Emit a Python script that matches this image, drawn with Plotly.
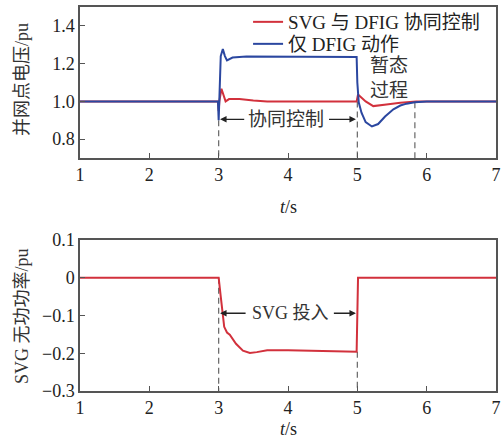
import plotly.graph_objects as go

# ---------------- data ----------------
# Upper panel: grid-point voltage (pu)
t_coop = [1.0, 2.99, 3.0, 3.01, 3.04, 3.07, 3.1, 3.15, 3.3, 3.5, 3.7, 4.0, 4.99,
          5.01, 5.05, 5.12, 5.23, 5.32, 5.42, 5.62, 5.85, 6.0, 7.0]
v_coop = [1.0, 1.0, 0.95, 1.0, 1.067, 1.03, 1.0, 1.012, 1.012, 1.005, 1.0, 1.0, 1.0,
          1.037, 1.025, 1.0, 0.975, 0.978, 0.984, 0.993, 1.0, 1.0, 1.0]

t_dfig = [1.0, 2.99, 3.0, 3.01, 3.03, 3.06, 3.09, 3.12, 3.2, 3.4, 4.0, 4.5, 4.99,
          5.0, 5.02, 5.06, 5.12, 5.21, 5.3, 5.4, 5.52, 5.62, 5.71, 5.83, 6.0, 7.0]
v_dfig = [1.0, 1.0, 0.90, 1.0, 1.24, 1.277, 1.24, 1.217, 1.232, 1.238, 1.236, 1.236, 1.235,
          1.1, 0.995, 0.94, 0.89, 0.867, 0.88, 0.92, 0.958, 0.978, 0.988, 0.995, 1.0, 1.0]

# Lower panel: SVG reactive power (pu)
t_q = [1.0, 3.0, 3.03, 3.08, 3.12, 3.16, 3.25, 3.35, 3.45, 3.55, 3.7, 4.0, 4.5, 4.99, 5.01, 7.0]
q_svg = [0, 0, -0.05, -0.13, -0.145, -0.151, -0.175, -0.193, -0.199, -0.197, -0.192,
         -0.192, -0.194, -0.196, 0, 0]

series_names = ["SVG 与 DFIG 协同控制", "仅 DFIG 动作"]
x_ticks = [1, 2, 3, 4, 5, 6, 7]
v_ticks = [0.8, 1.0, 1.2, 1.4]
v_ticklabels = ["0.8", "1.0", "1.2", "1.4"]
q_ticks = [0.1, 0, -0.1, -0.2, -0.3]
q_ticklabels = ["0.1", "0", "\u22120.1", "\u22120.2", "\u22120.3"]

event_on, event_off, settle_t = 3.0, 5.0, 5.83
arrow_v, arrow_q = 0.905, -0.094

RED = "#d2313c"
BLUE = "#2b47a0"
AX = "#555555"
SERIF = "Liberation Serif, Times New Roman, Noto Sans CJK SC, serif"

fig = go.Figure()
fig.add_trace(go.Scatter(x=t_coop, y=v_coop, mode="lines", name=series_names[0],
                         line=dict(color=RED, width=2), xaxis="x", yaxis="y", legend="legend"))
fig.add_trace(go.Scatter(x=t_dfig, y=v_dfig, mode="lines", name=series_names[1],
                         line=dict(color=BLUE, width=2), xaxis="x", yaxis="y", legend="legend2"))
fig.add_trace(go.Scatter(x=t_q, y=q_svg, mode="lines", showlegend=False,
                         line=dict(color=RED, width=2), xaxis="x2", yaxis="y2"))

H_TOP, H_BOT = 7, 48
ph = 439 - H_TOP - H_BOT
def py(pix):
    return (439 - H_BOT - pix) / ph

axis_common = dict(showline=True, linecolor=AX, linewidth=1.5, mirror=True,
                   ticks="inside", ticklen=5, tickcolor=AX, tickwidth=1.2,
                   showgrid=False, zeroline=False, automargin=False,
                   tickfont=dict(family=SERIF, size=18, color="#222"))

leg_common = dict(xanchor="left", yanchor="middle", bgcolor="rgba(0,0,0,0)",
                  font=dict(family=SERIF, size=19, color="#222"), itemwidth=30)

fig.update_layout(
    width=502, height=439,
    margin=dict(l=80, r=6, t=H_TOP, b=H_BOT, autoexpand=False),
    plot_bgcolor="white", paper_bgcolor="white",
    xaxis=dict(range=[1, 7], tickvals=x_ticks, domain=[0, 1], anchor="y", **axis_common),
    yaxis=dict(range=[0.7, 1.5], tickvals=v_ticks, ticktext=v_ticklabels,
               domain=[py(158), 1], anchor="x", **axis_common),
    xaxis2=dict(range=[1, 7], tickvals=x_ticks, domain=[0, 1], anchor="y2", **axis_common),
    yaxis2=dict(range=[-0.3, 0.1], tickvals=q_ticks, ticktext=q_ticklabels,
                domain=[0, py(240)], anchor="x2", **axis_common),
    legend=dict(x=0.404, y=py(22), **leg_common),
    legend2=dict(x=0.404, y=py(44), **leg_common),
    showlegend=True,
)

dash = "6px,4px"
shapes = []
for (x0, y0, y1, xr, yr) in [
    (event_on, 0.9, 0.7, "x", "y"),
    (event_off, 1.0, 0.7, "x", "y"),
    (settle_t, 0.995, 0.7, "x", "y"),
    (event_on, 0.0, -0.3, "x2", "y2"),
    (event_off, -0.196, -0.3, "x2", "y2"),
]:
    shapes.append(dict(type="line", xref=xr, yref=yr, x0=x0, x1=x0, y0=y0, y1=y1,
                       line=dict(color="#666", width=1.2, dash=dash), layer="below"))
fig.update_layout(shapes=shapes)

ann = []
def arrow(xr, yr, head, tail, yv):
    ann.append(dict(xref=xr, yref=yr, axref=xr, ayref=yr, x=head, y=yv, ax=tail, ay=yv,
                    text="", showarrow=True, arrowhead=2, arrowsize=1.0, arrowwidth=1.3,
                    arrowcolor="#222", standoff=0, startstandoff=0))

arrow("x", "y", event_on + 0.02, 3.39, arrow_v)
arrow("x", "y", event_off - 0.02, 4.57, arrow_v)
ann.append(dict(xref="x", yref="y", x=3.97, y=arrow_v, text="协同控制", showarrow=False,
                font=dict(family=SERIF, size=19, color="#333")))
arrow("x2", "y2", event_on + 0.02, 3.41, arrow_q)
arrow("x2", "y2", event_off - 0.02, 4.64, arrow_q)
ann.append(dict(xref="x2", yref="y2", x=4.03, y=arrow_q, text="SVG 投入", showarrow=False,
                font=dict(family=SERIF, size=18, color="#333")))
ann.append(dict(xref="x", yref="y", x=5.45, y=1.124, text="暂态<br>过程", showarrow=False,
                align="center", font=dict(family=SERIF, size=19, color="#333")))

# axis titles
ann.append(dict(xref="paper", yref="paper", x=(22 - 80) / 416, y=py(80), text="并网点电压/pu",
                textangle=-90, showarrow=False, xanchor="center", yanchor="middle",
                font=dict(family=SERIF, size=18, color="#333")))
ann.append(dict(xref="paper", yref="paper", x=(22 - 80) / 416, y=py(316), text="SVG 无功功率/pu",
                textangle=-90, showarrow=False, xanchor="center", yanchor="middle",
                font=dict(family=SERIF, size=18, color="#333")))
ann.append(dict(xref="paper", yref="paper", x=0.5, y=py(207), text="<i>t</i>/s",
                showarrow=False, xanchor="center", yanchor="middle",
                font=dict(family=SERIF, size=18, color="#222")))
ann.append(dict(xref="paper", yref="paper", x=0.5, y=py(429), text="<i>t</i>/s",
                showarrow=False, xanchor="center", yanchor="middle",
                font=dict(family=SERIF, size=18, color="#222")))
fig.update_layout(annotations=ann)

fig.write_html("out.html", config={"displayModeBar": False},
               post_script="document.body.style.margin='0';document.body.style.overflow='hidden';")
